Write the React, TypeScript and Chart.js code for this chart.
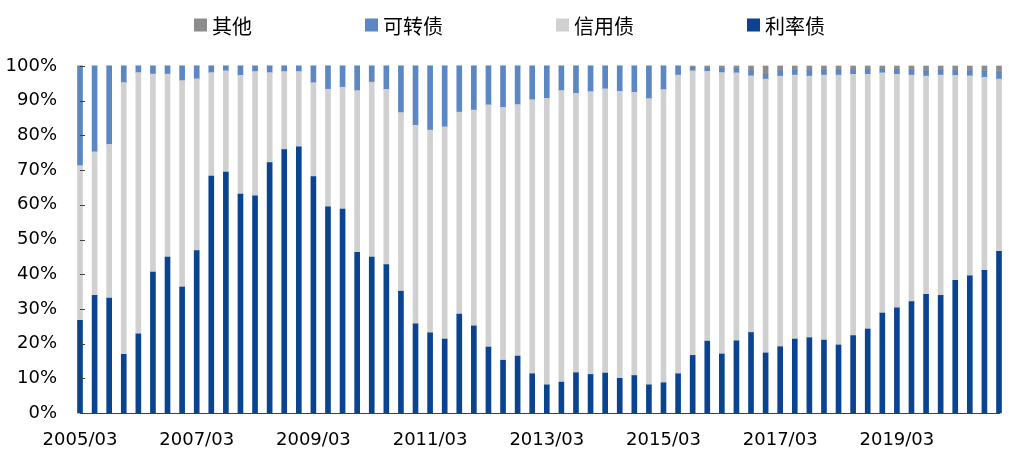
import React, { useEffect, useRef } from "react";
import { Chart, registerables } from "chart.js";

Chart.register(...registerables);

const categories = [
  "2005/03","2005/06","2005/09","2005/12","2006/03","2006/06","2006/09","2006/12",
  "2007/03","2007/06","2007/09","2007/12","2008/03","2008/06","2008/09","2008/12",
  "2009/03","2009/06","2009/09","2009/12","2010/03","2010/06","2010/09","2010/12",
  "2011/03","2011/06","2011/09","2011/12","2012/03","2012/06","2012/09","2012/12",
  "2013/03","2013/06","2013/09","2013/12","2014/03","2014/06","2014/09","2014/12",
  "2015/03","2015/06","2015/09","2015/12","2016/03","2016/06","2016/09","2016/12",
  "2017/03","2017/06","2017/09","2017/12","2018/03","2018/06","2018/09","2018/12",
  "2019/03","2019/06","2019/09","2019/12","2020/03","2020/06","2020/09","2020/12",
];

const tickLabels = ["2005/03","2007/03","2009/03","2011/03","2013/03","2015/03","2017/03","2019/03"];

// 利率债
const rateBonds = [
  26.7, 33.9, 33.1, 16.9, 22.8, 40.6, 44.9, 36.3,
  46.8, 68.3, 69.4, 63.1, 62.6, 72.2, 75.9, 76.7,
  68.1, 59.4, 58.8, 46.3, 44.9, 42.8, 35.1, 25.7,
  23.1, 21.3, 28.5, 25.1, 19.0, 15.2, 16.4, 11.3,
  8.1, 8.9, 11.6, 11.1, 11.5, 10.0, 10.8, 8.1,
  8.7, 11.3, 16.6, 20.7, 17.0, 20.8, 23.2, 17.3,
  19.1, 21.3, 21.7, 21.0, 19.6, 22.3, 24.2, 28.8,
  30.3, 32.1, 34.2, 33.9, 38.2, 39.5, 41.1, 46.6,
];

// 信用债
const creditBonds = [
  44.6, 41.4, 44.3, 78.3, 75.3, 57.1, 52.8, 59.5,
  49.5, 29.8, 29.2, 34.2, 35.8, 25.9, 22.5, 21.7,
  27.1, 33.9, 35.1, 46.6, 50.5, 50.5, 51.5, 57.2,
  58.4, 61.2, 58.2, 62.2, 69.8, 72.9, 72.5, 79.0,
  82.6, 84.0, 80.5, 81.5, 81.9, 82.7, 81.6, 82.5,
  84.5, 86.1, 82.0, 77.8, 81.1, 77.2, 74.0, 78.9,
  78.0, 76.1, 75.4, 76.4, 77.8, 75.3, 73.4, 69.2,
  67.3, 65.3, 62.9, 63.5, 59.1, 57.7, 55.6, 49.6,
];

// 可转债
const convertibleBonds = [
  28.7, 24.7, 22.6, 4.8, 1.9, 2.3, 2.3, 4.2,
  3.7, 1.9, 1.4, 2.7, 1.6, 1.9, 1.6, 1.6,
  4.8, 6.7, 6.1, 7.1, 4.6, 6.7, 13.4, 17.1,
  18.5, 17.5, 13.3, 12.7, 11.2, 11.9, 11.1, 9.7,
  9.3, 7.1, 7.9, 7.4, 6.6, 7.3, 7.6, 9.4,
  6.8, 2.6, 1.0, 0.9, 1.2, 1.2, 1.5, 1.3,
  1.5, 1.4, 1.6, 1.4, 1.4, 1.3, 1.3, 1.1,
  1.3, 1.4, 1.5, 1.4, 1.4, 1.5, 1.8, 2.0,
];

// 其他
const otherBonds = [
  0, 0, 0, 0, 0, 0, 0, 0,
  0, 0, 0, 0, 0, 0, 0, 0,
  0, 0, 0, 0, 0, 0, 0, 0,
  0, 0, 0, 0, 0, 0, 0, 0,
  0, 0, 0, 0, 0, 0, 0, 0,
  0, 0, 0.4, 0.6, 0.7, 0.8, 1.3, 2.5,
  1.4, 1.2, 1.3, 1.2, 1.2, 1.1, 1.1, 0.9,
  1.1, 1.2, 1.4, 1.2, 1.3, 1.3, 1.5, 1.8,
];

const yTicks = [0, 10, 20, 30, 40, 50, 60, 70, 80, 90, 100];

const seriesNames = ["利率债", "信用债", "可转债", "其他"];
const seriesColors = ["#0A4490", "#D0D0D0", "#5B87C5", "#8C8C8C"];

const legendPlugin = {
  id: "customLegend",
  afterDraw(chart: any) {
    const ctx = chart.ctx;
    ctx.save();
    ctx.font = '20px "Noto Sans CJK SC", sans-serif';
    const box = 13;
    const gapText = 5;
    const gapItem = 113;
    const items = chart.data.datasets.map((d: any) => ({ text: d.label, color: d.backgroundColor })).reverse();
    const widths = items.map((it: any) => box + gapText + ctx.measureText(it.text).width);
    const total = widths.reduce((a: number, b: number) => a + b, 0) + gapItem * (items.length - 1);
    let x = chart.width / 2 + 5 - total / 2;
    const cy = 25;
    items.forEach((it: any, i: number) => {
      ctx.fillStyle = it.color;
      ctx.fillRect(x, cy - box / 2, box, box);
      ctx.fillStyle = "#000";
      ctx.textBaseline = "middle";
      ctx.textAlign = "left";
      ctx.fillText(it.text, x + box + gapText, cy + 1);
      x += widths[i] + gapItem;
    });
    // inward y-axis tick marks
    const ys = chart.scales.y;
    const left = chart.chartArea.left;
    ctx.strokeStyle = "#404040";
    ctx.lineWidth = 1;
    ys.ticks.forEach((t: any) => {
      const py = Math.round(ys.getPixelForValue(t.value)) + 0.5;
      ctx.beginPath();
      ctx.moveTo(left, py);
      ctx.lineTo(left + 5, py);
      ctx.stroke();
    });
    ctx.restore();
  },
};

export default function App() {
  const ref = useRef<HTMLCanvasElement | null>(null);
  useEffect(() => {
    if (!ref.current) return;
    const datasets = [rateBonds, creditBonds, convertibleBonds, otherBonds].map((data, i) => ({
      label: seriesNames[i],
      data,
      backgroundColor: seriesColors[i],
      borderWidth: 0,
      barThickness: 5,
      clip: false as any,
    }));
    const chart = new Chart(ref.current, {
      type: "bar",
      data: { labels: categories, datasets },
      options: {
        animation: false,
        responsive: true,
        maintainAspectRatio: false,
        layout: { padding: { top: 66, left: 1, right: 10, bottom: 0 } },
        plugins: { legend: { display: false }, tooltip: { enabled: false } },
        scales: {
          x: {
            stacked: true,
            offset: false,
            grid: { display: false, drawTicks: false },
            border: { display: true, color: "#404040", width: 1 },
            afterFit: (s: any) => { s.height = 52; s.paddingLeft = 0; s.paddingRight = 0; },
            ticks: {
              autoSkip: false,
              maxRotation: 0,
              minRotation: 0,
              padding: 17,
              color: "#000",
              font: { family: '"DejaVu Sans", sans-serif', size: 18 },
              callback: (_v: any, idx: number) => (tickLabels.includes(categories[idx]) ? categories[idx] : ""),
            },
          },
          y: {
            stacked: true,
            min: 0,
            max: 100,
            grid: { display: false, drawTicks: false },
            border: { display: true, color: "#404040", width: 1 },
            afterFit: (s: any) => { s.width = 79; },
            afterBuildTicks: (s: any) => { s.ticks = yTicks.map((v) => ({ value: v })); },
            ticks: {
              padding: 23,
              color: "#000",
              font: { family: '"DejaVu Sans", sans-serif', size: 18 },
              callback: (v: any) => v + "%",
            },
          },
        },
      },
      plugins: [legendPlugin],
    });
    return () => chart.destroy();
  }, []);
  return (
    <div style={{ position: "absolute", left: 0, top: 0, width: 1009, height: 465 }}>
      <canvas ref={ref} />
    </div>
  );
}
